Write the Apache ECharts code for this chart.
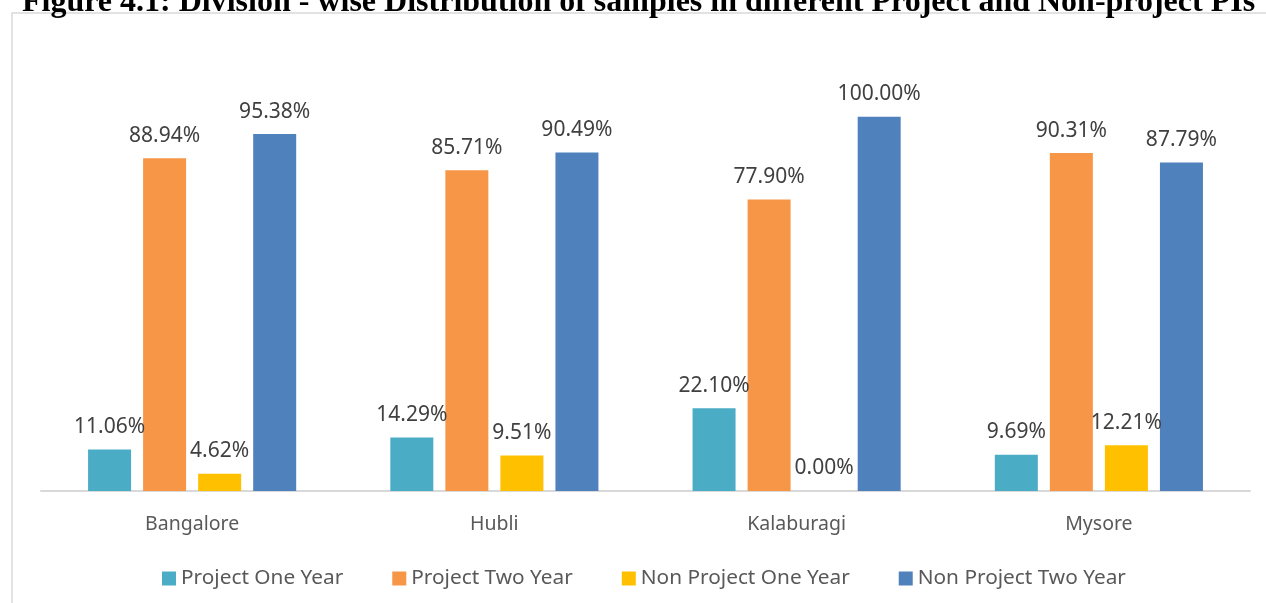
<!DOCTYPE html>
<html>
<head>
<meta charset="utf-8">
<script src="https://cdn.jsdelivr.net/npm/echarts@6/dist/echarts.min.js"></script>
<style>
  html, body { margin: 0; padding: 0; background: #ffffff; }
  #chart { width: 1266px; height: 603px; }
</style>
</head>
<body>
<div id="chart"></div>
<script>
// Division-wise share of samples (%)
const categories = ['Bangalore', 'Hubli', 'Kalaburagi', 'Mysore'];
const projectOneYear = [11.06, 14.29, 22.10, 9.69];
const projectTwoYear = [88.94, 85.71, 77.90, 90.31];
const nonProjectOneYear = [4.62, 9.51, 0.00, 12.21];
const nonProjectTwoYear = [95.38, 90.49, 100.00, 87.79];
const seriesNames = ['Project One Year', 'Project Two Year', 'Non Project One Year', 'Non Project Two Year'];
const titleText = 'Figure 4.1: Division - wise Distribution of samples in different Project and Non-project PIs';

const colors = ['#4bacc6', '#f79646', '#ffc000', '#4f81bd'];
const fontFamily = '"Noto Sans", "Open Sans", sans-serif';

const chart = echarts.init(document.getElementById('chart'), null, { renderer: 'canvas' });

function barSeries(name, data, color) {
  return {
    name: name,
    type: 'bar',
    data: data,
    barWidth: 43,
    barGap: '28%',
    itemStyle: { color: color },
    label: {
      show: true,
      position: 'top',
      distance: 12,
      color: '#404040',
      fontFamily: fontFamily,
      fontSize: 21,
      formatter: p => p.value.toFixed(2) + '%'
    }
  };
}

chart.setOption({
  animation: false,
  backgroundColor: '#ffffff',
  color: colors,
  graphic: [
    {
      type: 'rect',
      shape: { x: 12, y: 13, width: 1300, height: 700 },
      style: { fill: 'none', stroke: '#d9d9d9', lineWidth: 1.5 },
      silent: true
    },
    {
      type: 'text',
      x: 22,
      y: 19,
      style: {
        text: titleText,
        font: 'bold 32px "Liberation Serif", "Times New Roman", serif',
        fill: '#000000',
        verticalAlign: 'bottom',
        align: 'left'
      },
      silent: true
    }
  ],
  grid: { left: 41, right: 16, top: 42, bottom: 112, containLabel: false },
  legend: {
    data: seriesNames,
    left: 162,
    top: 568,
    padding: 0,
    itemWidth: 14,
    itemHeight: 14,
    itemGap: 49,
    icon: 'rect',
    textStyle: { color: '#595959', fontFamily: fontFamily, fontSize: 20.8 }
  },
  xAxis: {
    type: 'category',
    data: categories,
    axisLine: { show: true, lineStyle: { color: '#d9d9d9', width: 2 } },
    axisTick: { show: false },
    axisLabel: { color: '#595959', fontFamily: fontFamily, fontSize: 19.5, margin: 23 },
    splitLine: { show: false }
  },
  yAxis: {
    type: 'value',
    min: 0,
    max: 120,
    interval: 20,
    show: false,
    splitLine: { show: false }
  },
  series: [
    barSeries(seriesNames[0], projectOneYear, colors[0]),
    barSeries(seriesNames[1], projectTwoYear, colors[1]),
    barSeries(seriesNames[2], nonProjectOneYear, colors[2]),
    barSeries(seriesNames[3], nonProjectTwoYear, colors[3])
  ]
});
</script>
</body>
</html>
